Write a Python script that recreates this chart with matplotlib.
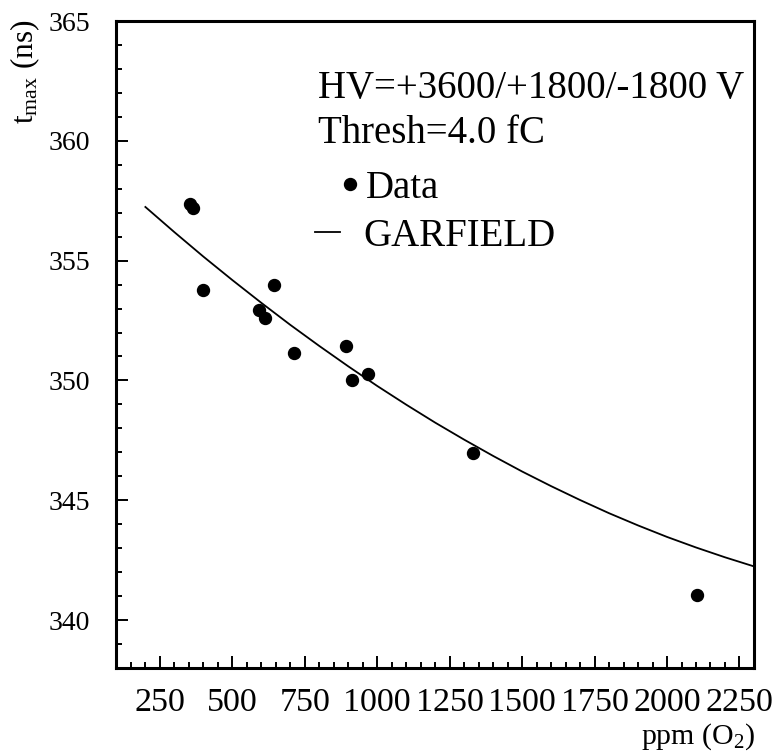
import matplotlib
matplotlib.use("Agg")
import matplotlib.pyplot as plt

plt.rcParams['font.family'] = ['Liberation Serif', 'DejaVu Serif']
plt.rcParams['mathtext.fontset'] = 'custom'
plt.rcParams['mathtext.rm'] = 'Liberation Serif'
plt.rcParams['mathtext.it'] = 'Liberation Serif:italic'

# Measured points
ppm_data = [355, 365, 398, 592, 612, 644, 713, 893, 912, 969, 1331, 2104]
tmax_data = [357.35, 357.2, 353.79, 352.92, 352.61, 353.97, 351.13, 351.43, 350.0, 350.25, 346.99, 341.04]

# GARFIELD simulation curve
ppm_sim = [200, 300, 400, 500, 600, 700, 800, 900, 1000, 1100, 1200, 1300,
           1400, 1500, 1600, 1700, 1800, 1900, 2000, 2100, 2200, 2300]
tmax_sim = [357.24, 356.19, 355.17, 354.19, 353.24, 352.32, 351.44, 350.59, 349.77,
            348.99, 348.24, 347.53, 346.85, 346.20, 345.59, 345.01, 344.46, 343.95,
            343.47, 343.03, 342.62, 342.24]

x_ticks = [250, 500, 750, 1000, 1250, 1500, 1750, 2000, 2250]
y_ticks = [340, 345, 350, 355, 360, 365]

fig = plt.figure(figsize=(7.76, 7.56), dpi=100)
ax = fig.add_axes([0.150, 0.1164, 0.8216, 0.8558])

sim_line, = ax.plot(ppm_sim, tmax_sim, color='black', lw=1.3)
data_pts, = ax.plot(ppm_data, tmax_data, 'o', color='black', ms=8.6)

ax.set_xlim(100, 2300)
ax.set_ylim(338, 365)
ax.set_xticks(x_ticks)
ax.set_yticks(y_ticks)
ax.set_xticks(range(150, 2300, 50), minor=True)
ax.set_yticks(range(339, 365), minor=True)

for s in ax.spines.values():
    s.set_linewidth(2.2)
ax.tick_params(which='both', direction='in', width=1.4)
ax.tick_params(which='major', length=8.5)
ax.tick_params(which='minor', length=4.5)
ax.tick_params(axis='x', pad=14, labelsize=24.5)
ax.tick_params(axis='y', pad=19, labelsize=20)

fs = 28
ax.text(0.316, 0.881, 'HV=+3600/+1800/-1800 V', transform=ax.transAxes,
        fontsize=fs, ha='left', va='baseline')
ax.text(0.316, 0.8114, 'Thresh=4.0 fC', transform=ax.transAxes,
        fontsize=fs, ha='left', va='baseline')

# two separate legend rows, ROOT style
leg1 = ax.legend([data_pts], ['Data'], loc='center left', bbox_to_anchor=(0.3506, 0.741),
                 frameon=False, fontsize=fs, handlelength=0.51, handletextpad=0.15,
                 borderpad=0, borderaxespad=0, numpoints=1)
ax.add_artist(leg1)
ax.legend([sim_line], ['GARFIELD'], loc='center left', bbox_to_anchor=(0.3114, 0.667),
          frameon=False, fontsize=fs, handlelength=0.65, handletextpad=0.59,
          borderpad=0, borderaxespad=0)

fig.text(0.033, 0.974, r'$\mathregular{t_{max}}$ (ns)', rotation=90,
         fontsize=22.5, ha='center', va='top')
fig.text(0.973, 0.005, r'ppm (O$\mathregular{_2}$)', fontsize=21.5,
         ha='right', va='bottom')

plt.savefig('out.png', dpi=100)
